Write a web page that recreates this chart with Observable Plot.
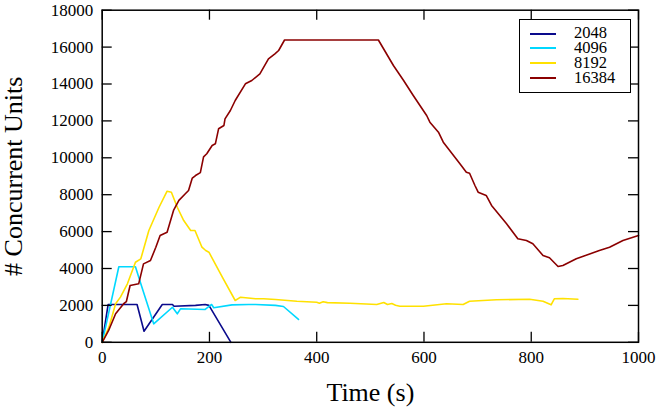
<!DOCTYPE html>
<html>
<head>
<meta charset="utf-8">
<script src="https://cdn.jsdelivr.net/npm/d3@7"></script>
<script src="https://cdn.jsdelivr.net/npm/@observablehq/plot@0.6"></script>
<style>
  html, body { margin: 0; padding: 0; background: #fff; }
  #wrap { position: relative; width: 663px; height: 410px; font-family: 'Liberation Serif', serif; }
  #legend { position: absolute; left: 519px; top: 19px; width: 112px; height: 74px; box-sizing: border-box;
            border: 1.5px solid #000; background: #fff; }
  .row { position: absolute; left: 0; height: 15px; width: 100%; }
  .sw { position: absolute; left: 10px; top: 6.5px; width: 26px; height: 0; border-top: 2px solid; }
  .lab { position: absolute; left: 54px; top: 0px; font-family: 'Liberation Serif', serif; font-size: 16.5px; line-height: 14.5px; color: #000; }
</style>
</head>
<body>
<div id="wrap"></div>
<script>
// ---- data ----
const seriesNames = ["2048", "4096", "8192", "16384"];
const seriesColors = ["#0a0a8c", "#00d8ff", "#ffe100", "#8b0000"];

const t2048 = [0, 11, 65, 78, 112, 131, 134, 174, 192, 199, 240];
const u2048 = [0, 2048, 2048, 600, 2048, 2048, 1950, 2000, 2048, 2000, 0];

const t4096 = [0, 31, 62, 72, 96, 131, 140, 146, 192, 204, 208, 242, 273, 286, 323, 338, 366];
const u4096 = [0, 4096, 4096, 3170, 1000, 1900, 1545, 1815, 1780, 2050, 1870, 2030, 2050, 2050, 2000, 1940, 1240];

const t8192 = [0, 12.6, 25, 34, 47, 62, 72, 87, 106, 121, 129, 140, 152, 165, 173, 186, 193, 199, 224, 248, 258, 286, 301, 323, 363, 400, 405, 412, 420, 462, 512, 525, 532, 540, 547, 555, 599, 642, 673, 685, 735, 797, 822, 837, 843, 859, 887];
const u8192 = [0, 820, 2090, 2450, 3170, 4340, 4525, 6060, 7320, 8190, 8135, 7320, 6600, 6060, 6060, 5155, 4975, 4885, 3530, 2265, 2445, 2357, 2357, 2320, 2228, 2174, 2120, 2200, 2150, 2120, 2049, 2160, 2050, 2100, 2010, 1957, 1957, 2087, 2049, 2228, 2303, 2336, 2228, 2032, 2357, 2374, 2336];

const t16384 = [0, 12, 25, 40, 45, 52, 68, 77, 90, 100, 108, 121, 133, 143, 155, 161, 168, 174, 183, 189, 195, 205, 211, 217, 227, 229, 239, 248, 267, 279, 294, 310, 322, 329, 340, 515, 543, 562, 580, 605, 611, 627, 636, 667, 679, 685, 695, 701, 716, 726, 754, 775, 791, 803, 822, 834, 850, 859, 884, 927, 946, 971, 1000];
const u16384 = [0, 640, 1545, 2090, 2200, 3080, 3170, 4250, 4430, 5155, 5790, 5970, 7145, 7690, 8050, 8228, 8900, 9040, 9200, 10050, 10217, 10666, 10758, 11572, 11752, 12113, 12563, 13105, 14010, 14190, 14553, 15366, 15636, 15816, 16384, 16384, 15003, 14190, 13377, 12293, 11930, 11388, 10845, 9675, 9220, 9165, 8500, 8135, 7957, 7415, 6423, 5610, 5518, 5338, 4705, 4580, 4108, 4163, 4525, 4976, 5155, 5518, 5789];

const xTicks = [0, 200, 400, 600, 800, 1000];
const yTicks = [0, 2000, 4000, 6000, 8000, 10000, 12000, 14000, 16000, 18000];
const xLabel = "Time (s)";
const yLabel = "# Concurrent Units";

// ---- build table ----
const times = [t2048, t4096, t8192, t16384];
const units = [u2048, u4096, u8192, u16384];
const rows = [];
seriesNames.forEach((s, i) => times[i].forEach((t, j) => rows.push({series: s, t, u: units[i][j]})));

const W = 663, H = 410;
const mL = 101.7, mR = 25, mT = 9.7, mB = 68.2;
const plotW = W - mL - mR, plotH = H - mT - mB;
const tick = 10;
const serif = "'Liberation Serif', serif";

const chart = Plot.plot({
  width: W, height: H,
  marginLeft: mL, marginRight: mR, marginTop: mT, marginBottom: mB,
  style: {fontFamily: serif, fontSize: "17px", color: "#000", background: "#fff"},
  x: {domain: [0, 1000]},
  y: {domain: [0, 18000]},
  color: {domain: seriesNames, range: seriesColors},
  marks: [
    Plot.line(rows, {x: "t", y: "u", z: "series", stroke: "series", strokeWidth: 1.6}),
    // inward ticks
    Plot.tickX(xTicks, {x: d => d, insetTop: plotH - tick, stroke: "#000", strokeWidth: 1.3}),
    Plot.tickX(xTicks, {x: d => d, insetBottom: plotH - tick, stroke: "#000", strokeWidth: 1.3}),
    Plot.tickY(yTicks, {y: d => d, insetRight: plotW - tick, stroke: "#000", strokeWidth: 1.3}),
    Plot.tickY(yTicks, {y: d => d, insetLeft: plotW - tick, stroke: "#000", strokeWidth: 1.3}),
    Plot.frame({stroke: "#000", strokeWidth: 1.5}),
    Plot.axisX({ticks: xTicks, tickSize: 0, tickPadding: 9, label: null, fontSize: 17, fontFamily: serif, tickFormat: d => String(d)}),
    Plot.axisY({ticks: yTicks, tickSize: 0, tickPadding: 9, label: null, fontSize: 17, fontFamily: serif, tickFormat: d => String(d)}),
    Plot.text([xLabel], {text: d => d, frameAnchor: "bottom", textAnchor: "middle", dy: 50, lineAnchor: "middle", fontSize: 26, fontFamily: serif, fill: "#000"}),
    Plot.text([yLabel], {text: d => d, frameAnchor: "left", textAnchor: "middle", dx: -89, rotate: -90, lineAnchor: "middle", fontSize: 26, fontFamily: serif, fill: "#000"})
  ]
});

const wrap = document.getElementById("wrap");
wrap.appendChild(chart);

// legend (HTML overlay inside the plot area)
const leg = document.createElement("div");
leg.id = "legend";
seriesNames.forEach((s, i) => {
  const r = document.createElement("div");
  r.className = "row";
  r.style.top = (6 + i * 14.9) + "px";
  const sw = document.createElement("div");
  sw.className = "sw";
  sw.style.borderTopColor = seriesColors[i];
  const lb = document.createElement("div");
  lb.className = "lab";
  lb.textContent = s;
  r.appendChild(sw); r.appendChild(lb);
  leg.appendChild(r);
});
wrap.appendChild(leg);
</script>
</body>
</html>
